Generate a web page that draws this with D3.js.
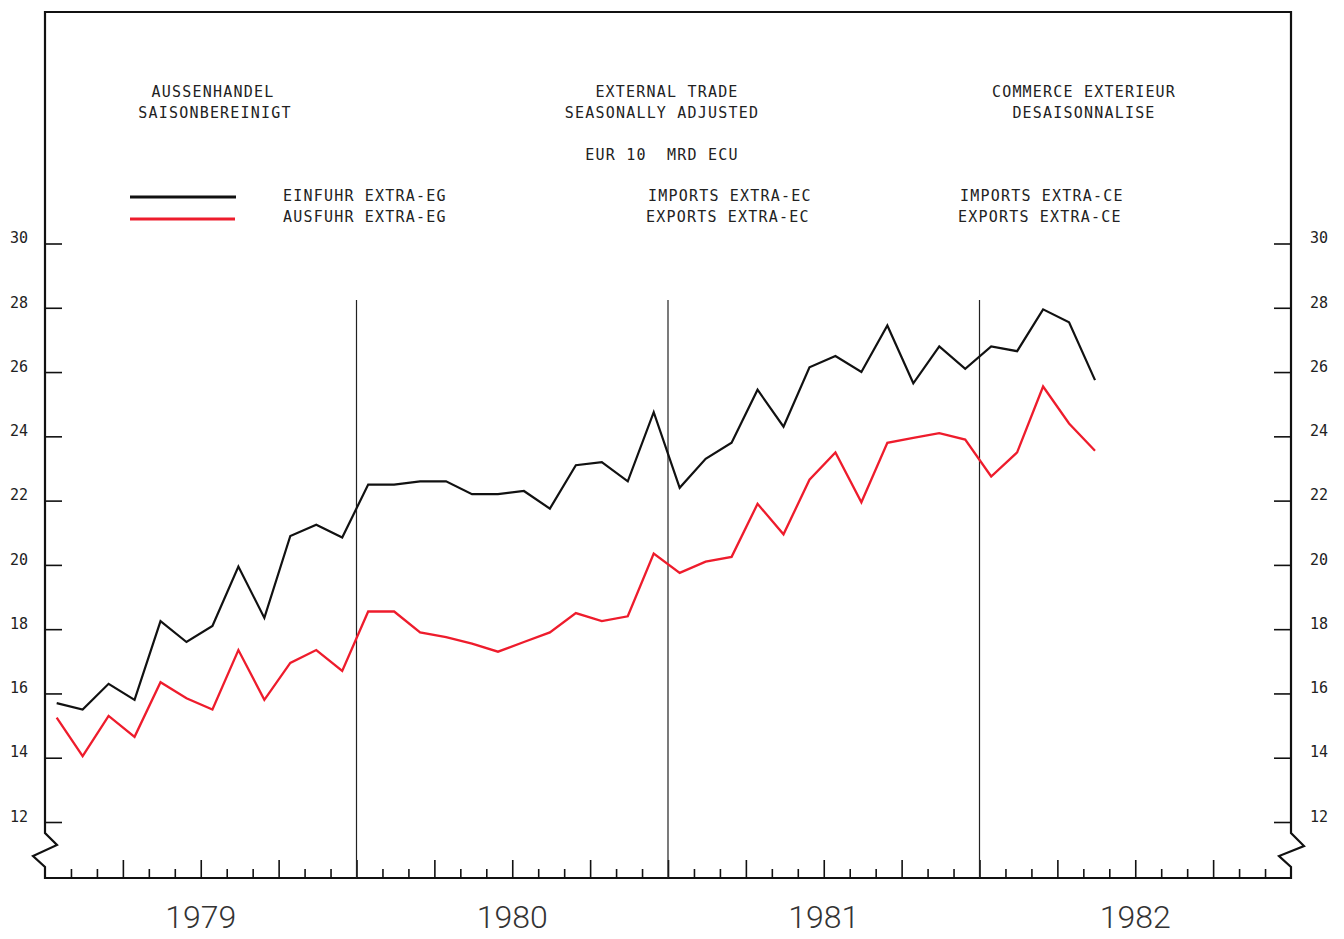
<!DOCTYPE html>
<html>
<head>
<meta charset="utf-8">
<script src="https://cdn.jsdelivr.net/npm/d3@7"></script>
<style>
  body { margin: 0; background: #fff; }
  svg { display: block; }
  .lbl { font-family: "DejaVu Sans Mono", monospace; font-size: 15px; letter-spacing: 1.2px; fill: #222; }
  .tick text { font-family: "DejaVu Sans Mono", monospace; font-size: 15px; fill: #222; }
</style>
</head>
<body>
<div id="chart"></div>
<script>
// monthly values, Jan 1979 .. May 1982 (MRD ECU)
const years = [1979, 1980, 1981, 1982];
const imports = [15.7, 15.5, 16.3, 15.8, 18.25, 17.6, 18.1, 19.95, 18.35, 20.9, 21.25, 20.85,
                 22.5, 22.5, 22.6, 22.6, 22.2, 22.2, 22.3, 21.75, 23.1, 23.2, 22.6, 24.75,
                 22.4, 23.3, 23.8, 25.45, 24.3, 26.15, 26.5, 26.0, 27.45, 25.65, 26.8, 26.1,
                 26.8, 26.65, 27.95, 27.55, 25.75];
const exports = [15.25, 14.05, 15.3, 14.65, 16.35, 15.85, 15.5, 17.35, 15.8, 16.95, 17.35, 16.7,
                 18.55, 18.55, 17.9, 17.75, 17.55, 17.3, 17.6, 17.9, 18.5, 18.25, 18.4, 20.35,
                 19.75, 20.1, 20.25, 21.9, 20.95, 22.65, 23.5, 21.95, 23.8, 23.95, 24.1, 23.9,
                 22.75, 23.5, 25.55, 24.4, 23.55];
const yTicks = [12, 14, 16, 18, 20, 22, 24, 26, 28, 30];

const width = 1344, height = 939;
const svg = d3.select("#chart").append("svg")
    .attr("width", width)
    .attr("height", height);

const x = d3.scaleLinear().domain([0, 48]).range([45, 1291]);
const y = d3.scaleLinear().domain([12, 30]).range([822, 243.5]);
const x0 = x(0), x1 = x(48), yBase = 878, yTop = 12;

// frame with axis breaks
const frame = d3.path();
frame.moveTo(x0, yBase);
frame.lineTo(x0, 867); frame.lineTo(x0 - 12, 856); frame.lineTo(x0 + 12, 845); frame.lineTo(x0, 833);
frame.lineTo(x0, yTop); frame.lineTo(x1, yTop);
frame.lineTo(x1, 833); frame.lineTo(x1 + 13, 846); frame.lineTo(x1 - 12, 856); frame.lineTo(x1, 867);
frame.lineTo(x1, yBase); frame.closePath();
svg.append("path")
    .attr("d", frame.toString())
    .attr("fill", "none")
    .attr("stroke", "#111")
    .attr("stroke-width", 2.2);

// y axes
svg.append("g")
    .attr("transform", `translate(${x0},0)`)
    .call(d3.axisLeft(y).tickValues(yTicks).tickSizeInner(-17).tickSizeOuter(0).tickPadding(17))
    .call(g => g.select(".domain").remove())
    .call(g => g.selectAll(".tick line").attr("stroke", "#111").attr("stroke-width", 1.6))
    .call(g => g.selectAll(".tick text").attr("dy", "-0.05em"));

svg.append("g")
    .attr("transform", `translate(${x1},0)`)
    .call(d3.axisRight(y).tickValues(yTicks).tickSizeInner(-17).tickSizeOuter(0).tickPadding(19))
    .call(g => g.select(".domain").remove())
    .call(g => g.selectAll(".tick line").attr("stroke", "#111").attr("stroke-width", 1.6))
    .call(g => g.selectAll(".tick text").attr("dy", "-0.05em"));

// x axis, monthly ticks, taller every quarter
svg.append("g")
    .attr("transform", `translate(0,${yBase})`)
    .call(d3.axisBottom(x).tickValues(d3.range(1, 48)).tickSizeInner(-9).tickSizeOuter(0).tickFormat(""))
    .call(g => g.select(".domain").remove())
    .call(g => g.selectAll(".tick line")
        .attr("stroke", "#111").attr("stroke-width", 1.6)
        .attr("y2", d => d % 3 === 0 ? -18 : -9));

// year separators
svg.selectAll(".yearline")
    .data(years.slice(1))
    .join("line")
    .attr("class", "yearline")
    .attr("x1", (d, i) => x((i + 1) * 12))
    .attr("x2", (d, i) => x((i + 1) * 12))
    .attr("y1", 300)
    .attr("y2", yBase)
    .attr("stroke", "#222")
    .attr("stroke-width", 1.2);

// year labels
svg.selectAll(".year")
    .data(years)
    .join("text")
    .attr("class", "year")
    .attr("x", (d, i) => x(i * 12 + 6))
    .attr("y", 928)
    .attr("text-anchor", "middle")
    .style("font-family", "Roboto, 'DejaVu Sans', sans-serif")
    .style("font-weight", 300)
    .style("font-size", "32px")
    .style("fill", "#333")
    .text(d => d);

// series
const line = d3.line()
    .x((d, i) => x(i + 0.45))
    .y(d => y(d));

svg.append("path")
    .datum(imports)
    .attr("d", line)
    .attr("fill", "none")
    .attr("stroke", "#111")
    .attr("stroke-width", 2.2)
    .attr("stroke-linejoin", "miter");

svg.append("path")
    .datum(exports)
    .attr("d", line)
    .attr("fill", "none")
    .attr("stroke", "#ee1c2c")
    .attr("stroke-width", 2.3)
    .attr("stroke-linejoin", "miter");

// titles
const titles = [
    {x: 213, y: 97, t: "AUSSENHANDEL"},
    {x: 215, y: 118, t: "SAISONBEREINIGT"},
    {x: 667, y: 97, t: "EXTERNAL TRADE"},
    {x: 662, y: 118, t: "SEASONALLY ADJUSTED"},
    {x: 662, y: 160, t: "EUR 10\u00a0\u00a0MRD ECU"},
    {x: 1084, y: 97, t: "COMMERCE EXTERIEUR"},
    {x: 1084, y: 118, t: "DESAISONNALISE"}
];
svg.selectAll(".title")
    .data(titles)
    .join("text")
    .attr("class", "lbl title")
    .attr("x", d => d.x)
    .attr("y", d => d.y)
    .attr("text-anchor", "middle")
    .text(d => d.t);

// legend
svg.append("line").attr("x1", 130).attr("x2", 236).attr("y1", 197).attr("y2", 197)
    .attr("stroke", "#111").attr("stroke-width", 2.8);
svg.append("line").attr("x1", 130).attr("x2", 235).attr("y1", 219).attr("y2", 219)
    .attr("stroke", "#ee1c2c").attr("stroke-width", 2.8);

const legend = [
    {x: 283, y: 201, t: "EINFUHR EXTRA-EG"},
    {x: 283, y: 222, t: "AUSFUHR EXTRA-EG"},
    {x: 648, y: 201, t: "IMPORTS EXTRA-EC"},
    {x: 646, y: 222, t: "EXPORTS EXTRA-EC"},
    {x: 960, y: 201, t: "IMPORTS EXTRA-CE"},
    {x: 958, y: 222, t: "EXPORTS EXTRA-CE"}
];
svg.selectAll(".legtext")
    .data(legend)
    .join("text")
    .attr("class", "lbl legtext")
    .attr("x", d => d.x)
    .attr("y", d => d.y)
    .text(d => d.t);
</script>
</body>
</html>
